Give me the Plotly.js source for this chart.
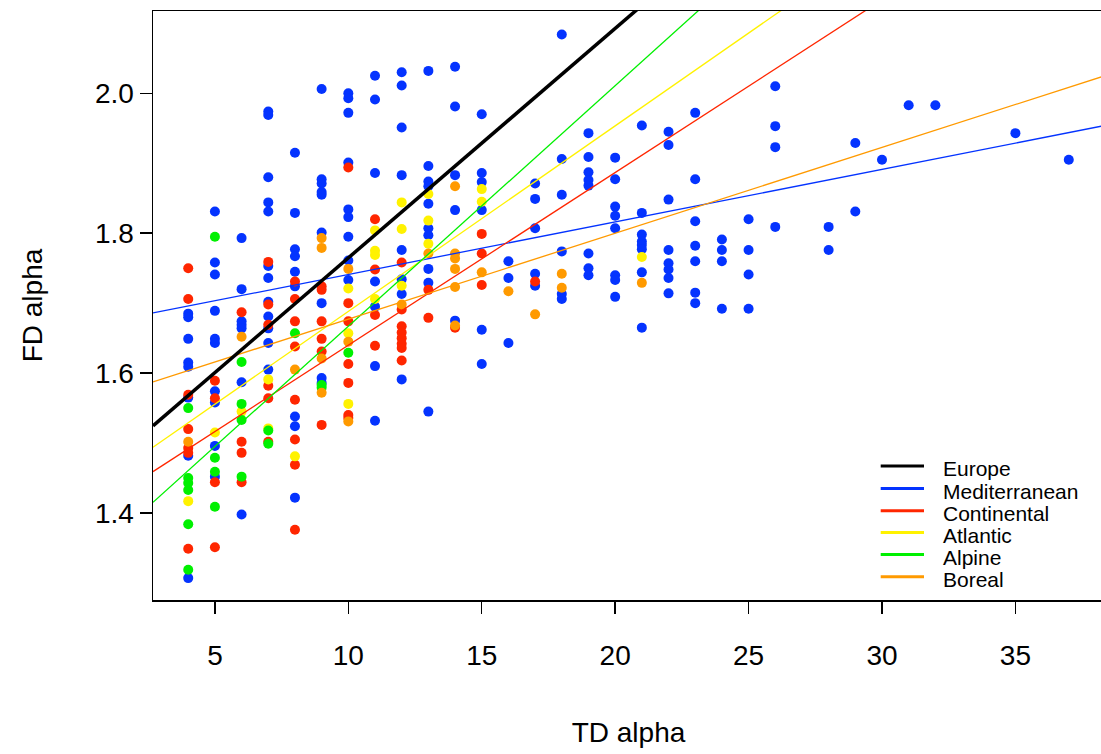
<!DOCTYPE html>
<html>
<head>
<meta charset="utf-8">
<script src="https://cdn.plot.ly/plotly-3.0.1.min.js"></script>
<style>
  html, body { margin: 0; padding: 0; overflow: hidden; background: #fff; }
  #chart { width: 1106px; height: 754px; }
</style>
</head>
<body>
<div id="chart"></div>
<script>
// ---------- DATA ----------
// Mediterranean (blue)
var med_x = [4,4,4,4,4,4,4,4,
  5,5,5,5,5,5,5,5,5,5,
  6,6,6,6,6,6,6,
  7,7,7,7,7,7,7,7,7,7,7,7,
  8,8,8,8,8,8,8,8,8,
  9,9,9,9,9,9,9,9,9,
  10,10,10,10,10,10,10,10,10,
  11,11,11,11,11,11,11,
  12,12,12,12,12,12,12,12,
  13,13,13,13,13,13,13,13,13,13,
  14,14,14,14,14,
  15,15,15,15,15,15,
  16,16,16,
  17,17,17,17,17,
  18,18,18,18,18,18,
  19,19,19,19,19,19,19,19,
  20,20,20,20,20,20,20,20,
  21,21,21,21,21,21,21,21,
  22,22,22,22,22,22,22,22,
  23,23,23,23,23,23,23,
  24,24,24,24,
  25,25,25,25,
  26,26,26,26,
  28,28,
  29,29,
  30,31,32,35,37];
var med_y = [1.685,1.680,1.649,1.615,1.609,1.565,1.482,1.307,
  1.831,1.758,1.741,1.689,1.649,1.643,1.574,1.558,1.496,1.452,
  1.793,1.720,1.674,1.669,1.664,1.587,1.398,
  1.974,1.969,1.880,1.844,1.831,1.753,1.736,1.702,1.681,1.664,1.643,1.605,
  1.915,1.829,1.777,1.767,1.745,1.724,1.538,1.524,1.422,
  2.006,1.877,1.871,1.859,1.855,1.801,1.700,1.593,1.586,
  2.000,1.993,1.972,1.901,1.834,1.823,1.795,1.761,1.733,
  2.025,1.991,1.886,1.731,1.695,1.610,1.532,
  2.030,2.011,1.951,1.883,1.776,1.734,1.713,1.591,
  2.032,1.896,1.874,1.867,1.842,1.807,1.797,1.749,1.729,1.545,
  2.038,1.981,1.883,1.833,1.675,
  1.970,1.886,1.873,1.833,1.662,1.613,
  1.760,1.736,1.643,
  1.871,1.849,1.807,1.742,1.725,
  2.084,1.906,1.855,1.774,1.713,1.706,
  1.943,1.909,1.887,1.876,1.868,1.771,1.750,1.740,
  1.908,1.877,1.838,1.825,1.807,1.740,1.733,1.709,
  1.954,1.829,1.798,1.788,1.783,1.777,1.744,1.665,
  1.945,1.926,1.848,1.776,1.757,1.748,1.736,1.714,
  1.972,1.877,1.817,1.782,1.760,1.715,1.700,
  1.791,1.776,1.760,1.692,
  1.820,1.776,1.741,1.692,
  2.010,1.953,1.923,1.809,
  1.809,1.776,
  1.929,1.831,
  1.905,1.983,1.983,1.943,1.905];

// Continental (red)
var cont_x = [4,4,4,4,4,4,4,
  5,5,5,5,
  6,6,6,6,
  7,7,7,7,7,7,
  8,8,8,8,8,8,8,8,
  9,9,9,9,9,9,
  10,10,10,10,10,10,10,
  11,11,11,11,
  12,12,12,12,12,12,12,12,
  13,13,
  14,
  15,15,15,
  17];
var cont_y = [1.750,1.706,1.569,1.520,1.493,1.486,1.349,
  1.589,1.564,1.444,1.351,
  1.687,1.502,1.486,1.444,
  1.759,1.698,1.669,1.582,1.564,1.502,
  1.731,1.706,1.674,1.638,1.562,1.505,1.469,1.376,
  1.724,1.719,1.674,1.649,1.631,1.526,
  1.894,1.700,1.674,1.613,1.586,1.540,1.536,
  1.820,1.748,1.683,1.639,
  1.758,1.691,1.667,1.658,1.650,1.642,1.636,1.618,
  1.719,1.679,
  1.665,
  1.799,1.771,1.726,
  1.731];

// Atlantic (yellow)
var atl_x = [4,5,6,7,7,8,10,10,10,11,11,11,11,12,12,12,13,13,13,15,15,21];
var atl_y = [1.417,1.515,1.545,1.591,1.521,1.481,1.721,1.657,1.556,
  1.804,1.775,1.769,1.706,1.844,1.806,1.725,1.856,1.818,1.785,1.863,1.845,1.766];

// Alpine (green)
var alp_x = [4,4,4,4,4,4,5,5,5,5,6,6,6,6,7,7,8,9,9,10];
var alp_y = [1.550,1.450,1.443,1.433,1.384,1.319,1.795,1.479,1.459,1.409,
  1.616,1.556,1.533,1.452,1.518,1.499,1.657,1.583,1.579,1.629];

// Boreal (orange)
var bor_x = [4,6,8,9,9,9,9,10,10,10,12,13,14,14,14,14,14,14,15,16,17,18,18,21];
var bor_y = [1.502,1.652,1.605,1.793,1.779,1.621,1.572,1.749,1.645,1.531,1.698,1.771,
  1.867,1.771,1.764,1.749,1.723,1.668,1.744,1.717,1.684,1.742,1.722,1.729];

// Fitted lines (intercept, slope) per region
var regions    = ['Europe','Mediterranean','Continental','Atlantic','Alpine','Boreal'];
var intercepts = [1.4367, 1.6659, 1.3931, 1.4230, 1.3231, 1.5545];
var slopes     = [0.0328, 0.00751, 0.02468, 0.02652, 0.03439, 0.01227];

// ---------- STYLE ----------
var colors = ['#000000','#0433FF','#FF2600','#FFF200','#00F000','#FF9A00'];
var lineWidths = [3.5, 1.3, 1.3, 1.3, 1.3, 1.3];
var xRange = [2.68, 38.32];
var yRange = [1.2757, 2.1176];
var FONT = '"Liberation Sans", Arial, sans-serif';

var pointSets = [
  [med_x, med_y, 1], [cont_x, cont_y, 2], [atl_x, atl_y, 3], [alp_x, alp_y, 4], [bor_x, bor_y, 5]
];

var traces = [];
pointSets.forEach(function (p) {
  traces.push({
    type: 'scatter', mode: 'markers', x: p[0], y: p[1],
    name: regions[p[2]] + ' sites', showlegend: false, hoverinfo: 'x+y',
    marker: { color: colors[p[2]], size: 10, line: { width: 0 } }
  });
});

// regression lines (drawn after points, like abline)
var order = [1, 2, 3, 4, 5, 0];
order.forEach(function (i) {
  traces.push({
    type: 'scatter', mode: 'lines',
    x: [xRange[0], xRange[1]],
    y: [intercepts[i] + slopes[i] * xRange[0], intercepts[i] + slopes[i] * xRange[1]],
    name: regions[i], showlegend: false,
    line: { color: colors[i], width: lineWidths[i] }
  });
});

// manual legend (R-style, no box)
var shapes = [], annotations = [];
var rowPx = [466, 488.5, 510.7, 532.5, 554.5, 576.7];
var plotTop = 11, plotH = 589, plotL = 153, plotW = 951;
regions.forEach(function (r, i) {
  var yp = (plotTop + plotH - rowPx[i]) / plotH;
  shapes.push({
    type: 'line', xref: 'paper', yref: 'paper',
    x0: (880.7 - plotL) / plotW, x1: (924 - plotL) / plotW, y0: yp, y1: yp,
    line: { color: colors[i], width: 3 }
  });
  annotations.push({
    xref: 'paper', yref: 'paper', x: (942 - plotL) / plotW, y: (plotTop + plotH - rowPx[i] - 2.5) / plotH,
    xanchor: 'left', yanchor: 'middle', showarrow: false, text: r, borderpad: 0,
    font: { family: FONT, size: 21, color: '#000' }
  });
});

var layout = {
  width: 1106, height: 754,
  margin: { l: plotL, r: 1106 - plotL - plotW, t: plotTop, b: 754 - plotTop - plotH },
  paper_bgcolor: '#fff', plot_bgcolor: '#fff',
  font: { family: FONT, color: '#000', size: 28 },
  showlegend: false,
  xaxis: {
    range: xRange, tickvals: [5, 10, 15, 20, 25, 30, 35],
    showgrid: false, zeroline: false,
    showline: true, mirror: true, linecolor: '#000', linewidth: 1.5,
    ticks: 'outside', ticklen: 12, tickwidth: 1.5, tickcolor: '#000',
    ticklabelstandoff: 18,
    tickfont: { family: FONT, size: 28, color: '#000' },
    title: { text: 'TD alpha', font: { family: FONT, size: 28, color: '#000' }, standoff: 52 }
  },
  yaxis: {
    range: yRange, tickvals: [1.4, 1.6, 1.8, 2.0], tickformat: '.1f',
    showgrid: false, zeroline: false,
    showline: true, mirror: true, linecolor: '#000', linewidth: 1.5,
    ticks: 'outside', ticklen: 12, tickwidth: 1.5, tickcolor: '#000',
    tickfont: { family: FONT, size: 28, color: '#000' },
    title: { text: 'FD alpha', font: { family: FONT, size: 28, color: '#000' }, standoff: 44 }
  },
  shapes: shapes,
  annotations: annotations
};

Plotly.newPlot('chart', traces, layout, { displayModeBar: false, staticPlot: true });
</script>
</body>
</html>
